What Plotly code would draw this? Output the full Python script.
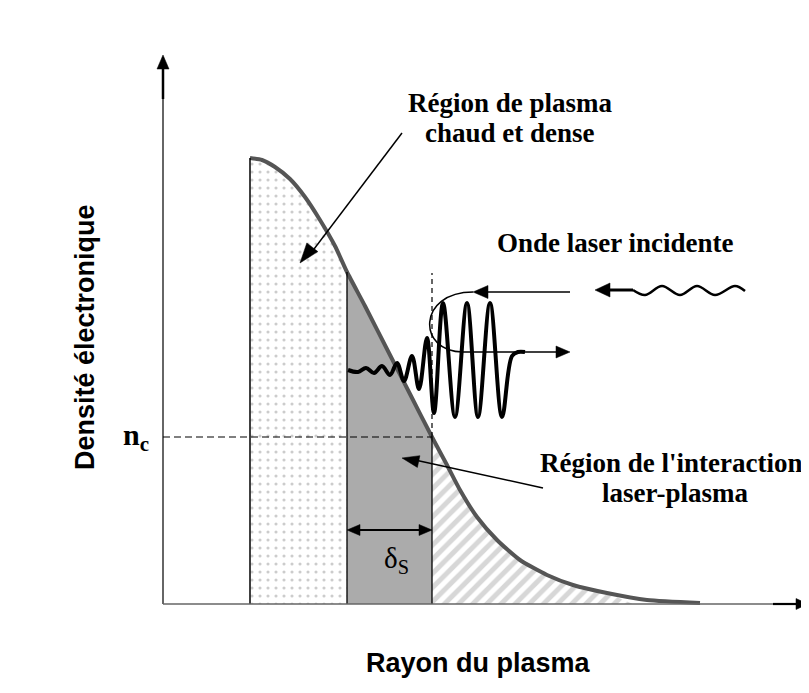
import plotly.graph_objects as go

# ---------------- data ----------------
# electron density profile: radius (arb. units) vs density (arb. units)
radius = [87, 99, 112, 127, 142, 157, 172, 184, 202, 227, 247, 269, 284, 297, 314, 334, 357, 384, 410, 444, 484, 537]
density = [446, 444, 437, 425, 407, 384, 358, 332, 298, 249, 210, 167, 139, 114, 87, 64, 44, 29, 19, 11, 4, 1]

r_edge = 87      # edge of the plasma
r_skin = 184     # start of the interaction (skin) region
r_crit = 269     # critical-density position
r_hatch = 470    # end of the hatched under-dense region
n_crit = 167     # critical density n_c

# laser wave (extrema) inside / in front of the plasma
wave_r = [185, 195, 203, 211, 219, 227, 234, 241, 249, 256, 264, 271, 280, 292, 304, 315, 327, 339, 349, 355, 362]
wave_n = [234, 232, 236, 231, 238, 229, 241, 223, 248, 215, 266, 191, 301, 187, 301, 187, 301, 187, 248, 252, 252]

# incident wave symbol (extrema)
inc_r = [470, 482, 499, 517, 534, 552, 572, 582]
inc_n = [314, 309, 318, 309, 318, 309, 318, 313]

# ---------------- figure ----------------
W, H = 801, 685          # page body has an 8px margin
XR = [-155, 646]
YR = [-89, 596]

SERIF = "Liberation Serif, Times New Roman, serif"
SANS = "Liberation Sans, Arial, sans-serif"


def region(r0, r1):
    xs = [r for r in radius if r0 <= r <= r1]
    ys = [n for r, n in zip(radius, density) if r0 <= r <= r1]
    return [r0] + xs + [r1, r0], [0] + ys + [0, 0]


fig = go.Figure()

# dotted hot dense region
x, y = region(r_edge, r_skin)
fig.add_trace(go.Scatter(x=x, y=y, mode="lines", fill="toself", line=dict(width=0),
                         fillcolor="white",
                         fillpattern=dict(shape=".", fgcolor="#9a9a9a", bgcolor="white", size=8, solidity=0.12),
                         hoverinfo="skip", showlegend=False))
# grey interaction region
x, y = region(r_skin, r_crit)
fig.add_trace(go.Scatter(x=x, y=y, mode="lines", fill="toself", line=dict(width=0),
                         fillcolor="#ababab", hoverinfo="skip", showlegend=False))
# hatched under-dense region
x, y = region(r_crit, r_hatch)
fig.add_trace(go.Scatter(x=x, y=y, mode="lines", fill="toself", line=dict(width=0),
                         fillcolor="white",
                         fillpattern=dict(shape="/", fgcolor="#b0b0b0", bgcolor="white", size=10, solidity=0.5),
                         hoverinfo="skip", showlegend=False))

shapes = []


def seg(x0, y0, x1, y1, w=1.5, color="black", dash=None):
    shapes.append(dict(type="line", xref="x", yref="y", x0=x0, y0=y0, x1=x1, y1=y1,
                       line=dict(color=color, width=w, dash=dash) if dash else dict(color=color, width=w)))


def head(tx, ty, fx, fy, L, Wd):
    """filled triangular arrow head with tip (tx,ty), pointing away from (fx,fy)."""
    dx, dy = tx - fx, ty - fy
    d = (dx * dx + dy * dy) ** 0.5
    ux, uy = dx / d, dy / d
    bx, by = tx - L * ux, ty - L * uy
    px, py = -uy, ux
    p1 = (bx + Wd / 2 * px, by + Wd / 2 * py)
    p2 = (bx - Wd / 2 * px, by - Wd / 2 * py)
    shapes.append(dict(type="path", xref="x", yref="y",
                       path=f"M {tx},{ty} L {p1[0]},{p1[1]} L {p2[0]},{p2[1]} Z",
                       fillcolor="black", line=dict(color="black", width=0.5)))


# region boundaries
seg(r_edge, 0, r_edge, density[0], 1.5)
seg(r_skin, 0, r_skin, density[radius.index(r_skin)], 1.3)
seg(r_crit, 0, r_crit, n_crit, 1.3)

# axes
seg(0, 0, 0, 538, 1.5, "#333")
seg(0, 505, 0, 538, 2.5, "black")
head(0, 549, 0, 0, 14, 12)
seg(0, 0, 637, 0, 1.5, "#666")
seg(610, 0, 637, 0, 2.2, "black")
head(645, 0, 0, 0, 12, 11)

# critical density dashed lines
seg(0, n_crit, r_crit, n_crit, 1.2, "black", "7px,4px")
seg(r_crit, n_crit, r_crit, 331, 1.2, "black", "5px,4px")

# delta_s double arrow
seg(r_skin + 5, 74, r_crit - 5, 74, 1.8)
head(r_skin, 74, r_crit, 74, 13, 11)
head(r_crit, 74, r_skin, 74, 13, 11)

# reflected / transmitted arc arrows
seg(407, 312, 318, 312, 1.5)
head(310, 312, 407, 312, 15, 13)
shapes.append(dict(type="path", xref="x", yref="y",
                   path="M 310,312 C 254,312 254,252 300,252 L 398,252",
                   line=dict(color="black", width=1.5)))
head(407, 252, 300, 252, 14, 12)

# incident wave arrow
seg(440, 314, 470, 314, 3)
head(432, 314, 470, 314, 15, 14)

# pointer arrows
seg(239, 471, 145, 347, 1.5)
head(137, 341, 239, 471, 20, 14)
seg(380, 116, 252, 144, 1.5)
head(239, 146, 380, 116, 17, 12)

# density profile curve
fig.add_trace(go.Scatter(x=radius, y=density, mode="lines",
                         line=dict(color="#555555", width=4, shape="spline", smoothing=0.6),
                         hoverinfo="skip", showlegend=False))
# laser wave
fig.add_trace(go.Scatter(x=wave_r, y=wave_n, mode="lines",
                         line=dict(color="black", width=4, shape="spline", smoothing=1.0),
                         hoverinfo="skip", showlegend=False))
# incident wave symbol
fig.add_trace(go.Scatter(x=inc_r, y=inc_n, mode="lines",
                         line=dict(color="black", width=2.5, shape="spline", smoothing=1.0),
                         hoverinfo="skip", showlegend=False))

ann = []


def text(x, y, s, font, size, angle=0, xanchor="center"):
    ann.append(dict(x=x, y=y, xref="x", yref="y", text=s, showarrow=False, textangle=angle,
                    xanchor=xanchor, yanchor="middle",
                    font=dict(family=font, size=size, color="black")))


text(347, 501, "<b>Région de plasma</b>", SERIF, 27)
text(347, 471, "<b>chaud et dense</b>", SERIF, 27)
text(452, 361, "<b>Onde laser incidente</b>", SERIF, 27)
text(508, 141, "<b>Région de l'interaction</b>", SERIF, 27)
text(512, 111, "<b>laser-plasma</b>", SERIF, 27)
text(-78, 267, "<b>Densité électronique</b>", SANS, 27, angle=-90)
text(315, -59, "<b>Rayon du plasma</b>", SANS, 27)
text(-12, 167, "<b>n<sub>c</sub></b>", SERIF, 30, xanchor="right")
text(233, 44, "δ<sub>S</sub>", SERIF, 29)

fig.update_layout(
    width=W, height=H, margin=dict(l=0, r=0, t=0, b=0),
    paper_bgcolor="white", plot_bgcolor="white",
    xaxis=dict(range=XR, visible=False, fixedrange=True),
    yaxis=dict(range=YR, visible=False, fixedrange=True),
    shapes=shapes, annotations=ann, showlegend=False,
)

fig.write_html("out.html")
